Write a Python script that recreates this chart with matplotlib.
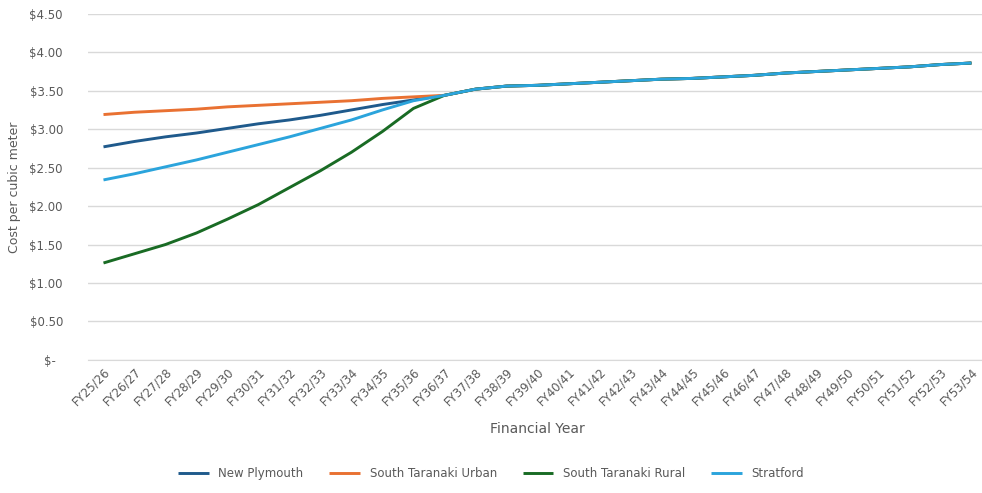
"""
Cost per cubic meter by supply area, FY25/26 to FY53/54.
"""

import matplotlib
matplotlib.use("Agg")
import matplotlib.pyplot as plt
from matplotlib.ticker import FuncFormatter


YEARS = [f"FY{y}/{y + 1}" for y in range(25, 54)]

# shared tail once all areas converge (FY37/38 onwards)
COMMON_TAIL = [3.52, 3.56, 3.57, 3.59, 3.61, 3.63, 3.65, 3.66, 3.68,
               3.70, 3.73, 3.75, 3.77, 3.79, 3.81, 3.84, 3.86]

NEW_PLYMOUTH = [2.77, 2.84, 2.90, 2.95, 3.01, 3.07, 3.12, 3.18, 3.25,
                3.32, 3.38, 3.44] + COMMON_TAIL
STH_TARANAKI_URBAN = [3.19, 3.22, 3.24, 3.26, 3.29, 3.31, 3.33, 3.35, 3.37,
                      3.40, 3.42, 3.44] + COMMON_TAIL
STH_TARANAKI_RURAL = [1.26, 1.38, 1.50, 1.65, 1.83, 2.02, 2.24, 2.46, 2.70,
                      2.97, 3.27, 3.44] + COMMON_TAIL
STRATFORD = [2.34, 2.42, 2.51, 2.60, 2.70, 2.80, 2.90, 3.01, 3.12,
             3.25, 3.37, 3.44] + COMMON_TAIL

SERIES = [
    ("New Plymouth", NEW_PLYMOUTH, "#1F5A8C"),
    ("South Taranaki Urban", STH_TARANAKI_URBAN, "#E97132"),
    ("South Taranaki Rural", STH_TARANAKI_RURAL, "#196B24"),
    ("Stratford", STRATFORD, "#2BA4DC"),
]

TEXT_COLOR = "#595959"
GRID_COLOR = "#D9D9D9"


def dollar_fmt(v, pos):
    if abs(v) < 1e-9:
        return "$-  "
    return f"${v:.2f}"


def main():
    plt.rcParams["font.family"] = ["DejaVu Sans"]

    fig = plt.figure(figsize=(9.82, 4.93), dpi=100)
    ax = fig.add_axes([0.0896, 0.270, 0.9154, 0.702])

    x = list(range(len(YEARS)))
    for name, values, color in SERIES:
        ax.plot(x, values, color=color, linewidth=2.1, label=name,
                solid_capstyle="butt")

    ax.set_xlim(-0.5, len(YEARS) - 0.5)
    ax.set_ylim(0, 4.5)
    ax.set_yticks([i * 0.5 for i in range(10)])
    ax.yaxis.set_major_formatter(FuncFormatter(dollar_fmt))

    ax.set_xticks(x)
    ax.set_xticklabels(YEARS, rotation=45, ha="right", rotation_mode="anchor")

    ax.grid(axis="y", color=GRID_COLOR, linewidth=1)
    ax.set_axisbelow(True)
    for side in ["top", "right", "left"]:
        ax.spines[side].set_visible(False)
    ax.spines["bottom"].set_color(GRID_COLOR)

    ax.tick_params(axis="both", length=0, labelsize=8.5, colors=TEXT_COLOR)
    ax.tick_params(axis="y", pad=18)
    ax.tick_params(axis="x", pad=4)

    ax.set_ylabel("Cost per cubic meter", fontsize=9, color=TEXT_COLOR,
                  labelpad=6)
    ax.set_xlabel("Financial Year", fontsize=10, color=TEXT_COLOR, labelpad=10)

    fig.legend(loc="lower center", bbox_to_anchor=(0.5, 0.005), ncol=4,
               frameon=False, fontsize=8.5, handlelength=2.6,
               columnspacing=2.2, labelcolor=TEXT_COLOR)

    plt.savefig("out.png", dpi=100)
    plt.close()


if __name__ == "__main__":
    main()
